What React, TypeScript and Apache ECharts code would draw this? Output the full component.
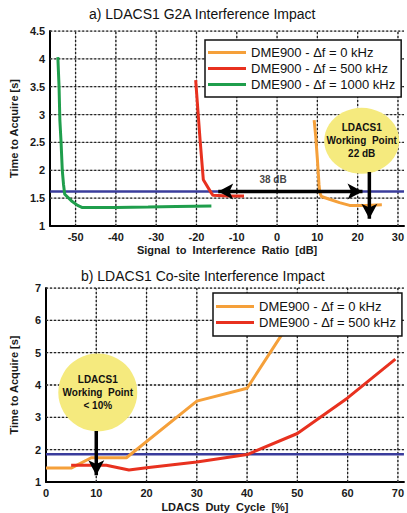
import React, { useEffect, useRef } from "react";
import * as echarts from "echarts";

// ---- texts ----
const topTitle = "a) LDACS1 G2A Interference Impact";
const bottomTitle = "b) LDACS1 Co-site Interference Impact";
const yName = "Time to Acquire [s]";
const topXName = "Signal  to  Interference  Ratio  [dB]";
const bottomXName = "LDACS  Duty  Cycle  [%]";
const seriesNames = ["DME900 - Δf = 0 kHz", "DME900 - Δf = 500 kHz", "DME900 - Δf = 1000 kHz"];
const topWorkingLabel = "LDACS1\nWorking  Point\n22 dB";
const bottomWorkingLabel = "LDACS1\nWorking  Point\n< 10%";
const gapLabel = "38 dB";

// ---- axes / grid ticks ----
const g2aXMin = -56.3;
const g2aXMax = 31.5;
const g2aXStep = 10;
const g2aYMin = 1;
const g2aYMax = 4.5;
const g2aYStep = 0.5;
const dutyXMin = 0;
const dutyXMax = 71.2;
const dutyXStep = 10;
const dutyYMin = 1;
const dutyYMax = 7;
const dutyYStep = 1;
const g2aXTicks = [-50, -40, -30, -20, -10, 0, 10, 20, 30];
const g2aYTicks = [1.5, 2, 2.5, 3, 3.5, 4, 4.5];
const dutyXTicks = [10, 20, 30, 40, 50, 60, 70];
const dutyYTicks = [2, 3, 4, 5, 6, 7];

// ---- a) G2A data ----
const g2aOrangeX = [9.2, 9.6, 10.0, 10.4, 10.6, 11, 13, 15.5, 18, 22, 26];
const g2aOrangeY = [2.9, 2.6, 2.2, 1.75, 1.6, 1.53, 1.48, 1.42, 1.37, 1.37, 1.38];
const g2aRedX = [-20.2, -19.1, -18.3, -16.3, -15.9, -12, -8.2];
const g2aRedY = [3.62, 2.54, 1.83, 1.59, 1.55, 1.54, 1.54];
const g2aGreenX = [-54.4, -54.1, -53.9, -53.6, -53.3, -53.0, -52.7, -51, -49.5, -48.3, -40, -32, -25, -16.3];
const g2aGreenY = [4.03, 3.5, 2.9, 2.5, 2.0, 1.75, 1.57, 1.45, 1.37, 1.33, 1.33, 1.34, 1.35, 1.36];
const g2aThreshold = 1.62;
const g2aGapArrowX = [-14.6, 21.2];
const g2aWorkingArrowX = 22.9;
const g2aWorkingArrowY = [1.97, 1.13];
const g2aGapLabelX = -1;
const g2aCircle = [21.0, 2.53];

// ---- b) Duty cycle data ----
const dutyOrangeX = [0, 5, 9, 16, 30, 40, 50];
const dutyOrangeY = [1.43, 1.43, 1.75, 1.75, 3.5, 3.9, 6.3];
const dutyRedX = [5, 12, 16.5, 20, 30, 40, 50, 60, 69.5];
const dutyRedY = [1.52, 1.52, 1.37, 1.44, 1.62, 1.85, 2.5, 3.6, 4.8];
const dutyThreshold = 1.86;
const dutyWorkingArrowX = 10;
const dutyWorkingArrowY = [2.58, 1.21];
const dutyCircle = [10.3, 3.77];

const ORANGE = "#f5a03a";
const RED = "#e8311f";
const GREEN = "#1f9e4c";
const BLUE = "#3a3c9c";
const YELLOW = "#f5ea7e";
const FONT = "Liberation Sans, Arial, sans-serif";

const zip = (xs: number[], ys: number[]) => xs.map((x, i) => [x, ys[i]]);

export default function App() {
  const ref = useRef<HTMLDivElement>(null);
  useEffect(() => {
    document.body.style.margin = "0";
    const chart = echarts.init(ref.current!, undefined, { renderer: "svg" });

    const axisLineStyle = () => ({ show: true, onZero: false, lineStyle: { color: "#000", width: 2 } });
    const labelStyle = { color: "#1a1a1a", fontFamily: FONT, fontWeight: "bold" as const, fontSize: 11 };
    const nameStyle = { color: "#1a1a1a", fontFamily: FONT, fontWeight: "bold" as const, fontSize: 11 };

    // grid lines drawn as plain line series (two layers: soft solid + dark dotted)
    const gridLines = (
      idx: number,
      xt: number[],
      yt: number[],
      xmin: number,
      xmax: number,
      ymin: number,
      ymax: number
    ) => {
      const out: any[] = [];
      const layers = [
        { color: "#b4b4b4", width: 1, type: "solid" },
        { color: "#222", width: 1.3, type: [2, 2] },
      ];
      layers.forEach((ls, li) => {
        xt.forEach((v) =>
          out.push({
            name: `grid-${idx}-${li}-x${v}`,
            type: "line",
            xAxisIndex: idx,
            yAxisIndex: idx,
            data: [
              [v, ymin],
              [v, ymax],
            ],
            symbol: "none",
            showSymbol: false,
            silent: true,
            z: 1,
            lineStyle: { ...ls },
          })
        );
        yt.forEach((v) =>
          out.push({
            name: `grid-${idx}-${li}-y${v}`,
            type: "line",
            xAxisIndex: idx,
            yAxisIndex: idx,
            data: [
              [xmin, v],
              [xmax, v],
            ],
            symbol: "none",
            showSymbol: false,
            silent: true,
            z: 1,
            lineStyle: { ...ls },
          })
        );
      });
      return out;
    };

    const lineSeries = (name: string, data: number[][], color: string, idx: number) => ({
      name,
      type: "line",
      xAxisIndex: idx,
      yAxisIndex: idx,
      data,
      symbol: "none",
      showSymbol: false,
      color,
      lineStyle: { color, width: 3 },
      z: 3,
      silent: true,
    });

    const thresholdSeries = (name: string, idx: number, xmin: number, xmax: number, t: number) => ({
      name,
      type: "line",
      xAxisIndex: idx,
      yAxisIndex: idx,
      data: [
        [xmin, t],
        [xmax, t],
      ],
      symbol: "none",
      showSymbol: false,
      lineStyle: { color: BLUE, width: 2.5 },
      z: 2,
      silent: true,
    });

    const arrowSeries = (name: string, idx: number, items: any[]) => ({
      name,
      type: "line",
      xAxisIndex: idx,
      yAxisIndex: idx,
      data: items,
      showSymbol: true,
      showAllSymbol: true,
      symbolSize: [12, 15],
      itemStyle: { color: "#000" },
      lineStyle: { color: "#000", width: 3.5 },
      z: 5,
      silent: true,
    });

    const circleSeries = (data: number[], size: number[], text: string, idx: number) => ({
      name: "wp" + idx,
      type: "scatter",
      xAxisIndex: idx,
      yAxisIndex: idx,
      data: [data],
      symbol: "circle",
      symbolSize: size,
      itemStyle: { color: YELLOW, opacity: 1 },
      emphasis: { disabled: true },
      z: 4,
      silent: true,
      label: {
        show: true,
        position: "inside",
        formatter: text,
        color: "#111",
        fontFamily: FONT,
        fontWeight: "bold",
        fontSize: 10,
        lineHeight: 13,
        align: "center",
      },
    });

    const legendBase = {
      orient: "vertical",
      icon: "rect",
      itemGap: 1,
      itemWidth: 38,
      itemHeight: 3,
      backgroundColor: "#fff",
      borderColor: "#111",
      borderWidth: 1.5,
      borderRadius: 0,
      selectedMode: false,
      textStyle: { fontFamily: FONT, fontSize: 13, color: "#111", lineHeight: 15 },
      z: 10,
    };

    const option: any = {
      animation: false,
      title: [
        {
          text: topTitle,
          left: 89,
          top: 7,
          padding: 0,
          textStyle: { fontFamily: FONT, fontSize: 14, fontWeight: "normal", color: "#111" },
        },
        {
          text: bottomTitle,
          left: 81,
          top: 269,
          padding: 0,
          textStyle: { fontFamily: FONT, fontSize: 14, fontWeight: "normal", color: "#111" },
        },
      ],
      legend: [
        { ...legendBase, data: seriesNames, left: 205, top: 40, padding: [5, 6, 5, 3] },
        { ...legendBase, data: seriesNames.slice(0, 2), left: 213, top: 293, padding: [6, 6, 6, 3] },
      ],
      grid: [
        { left: 45, top: 31, width: 362, height: 195 },
        { left: 45, top: 288, width: 362, height: 197 },
      ],
      xAxis: [
        {
          type: "value",
          gridIndex: 0,
          min: g2aXMin,
          max: g2aXMax,
          splitNumber: 9,
          minInterval: g2aXStep,
          maxInterval: g2aXStep,
          axisLine: axisLineStyle(),
          axisTick: { show: false },
          axisLabel: { ...labelStyle, margin: 5, showMinLabel: false, showMaxLabel: false },
          splitLine: { show: false },
          name: topXName,
          nameLocation: "middle",
          nameGap: 18,
          nameTextStyle: nameStyle,
        },
        {
          type: "value",
          gridIndex: 1,
          min: dutyXMin,
          max: dutyXMax,
          interval: dutyXStep,
          axisLine: axisLineStyle(),
          axisTick: { show: false },
          axisLabel: { ...labelStyle, margin: 5, showMaxLabel: false },
          splitLine: { show: false },
          name: bottomXName,
          nameLocation: "middle",
          nameGap: 19,
          nameTextStyle: nameStyle,
        },
      ],
      yAxis: [
        {
          type: "value",
          gridIndex: 0,
          min: g2aYMin,
          max: g2aYMax,
          interval: g2aYStep,
          axisLine: axisLineStyle(),
          axisTick: { show: false },
          axisLabel: { ...labelStyle, margin: 5 },
          splitLine: { show: false },
          name: yName,
          nameLocation: "middle",
          nameGap: 27,
          nameTextStyle: nameStyle,
        },
        {
          type: "value",
          gridIndex: 1,
          min: dutyYMin,
          max: dutyYMax,
          interval: dutyYStep,
          axisLine: axisLineStyle(),
          axisTick: { show: false },
          axisLabel: { ...labelStyle, margin: 5 },
          splitLine: { show: false },
          name: yName,
          nameLocation: "middle",
          nameGap: 27,
          nameTextStyle: nameStyle,
        },
      ],
      series: [
        ...gridLines(0, g2aXTicks, g2aYTicks, g2aXMin, g2aXMax, g2aYMin, g2aYMax),
        ...gridLines(1, dutyXTicks, dutyYTicks, dutyXMin, dutyXMax, dutyYMin, dutyYMax),
        thresholdSeries("threshold-a", 0, g2aXMin, g2aXMax, g2aThreshold),
        lineSeries(seriesNames[0], zip(g2aOrangeX, g2aOrangeY), ORANGE, 0),
        lineSeries(seriesNames[1], zip(g2aRedX, g2aRedY), RED, 0),
        lineSeries(seriesNames[2], zip(g2aGreenX, g2aGreenY), GREEN, 0),
        circleSeries(g2aCircle, [75, 66], topWorkingLabel, 0),
        arrowSeries("gap-arrow", 0, [
          { value: [g2aGapArrowX[0], g2aThreshold], symbol: "arrow", symbolRotate: 90 },
          { value: [g2aGapArrowX[1], g2aThreshold], symbol: "arrow", symbolRotate: -90 },
        ]),
        arrowSeries("wp-arrow-a", 0, [
          { value: [g2aWorkingArrowX, g2aWorkingArrowY[0]], symbol: "none" },
          { value: [g2aWorkingArrowX, g2aWorkingArrowY[1]], symbol: "arrow", symbolRotate: 180 },
        ]),
        {
          name: "gap-label",
          type: "scatter",
          xAxisIndex: 0,
          yAxisIndex: 0,
          data: [[g2aGapLabelX, g2aThreshold]],
          symbolSize: 1,
          itemStyle: { color: "rgba(0,0,0,0)" },
          z: 6,
          silent: true,
          label: {
            show: true,
            position: "top",
            distance: 6,
            formatter: gapLabel,
            color: "#111",
            fontFamily: FONT,
            fontWeight: "bold",
            fontSize: 10,
          },
        },
        thresholdSeries("threshold-b", 1, dutyXMin, dutyXMax, dutyThreshold),
        lineSeries(seriesNames[0], zip(dutyOrangeX, dutyOrangeY), ORANGE, 1),
        lineSeries(seriesNames[1], zip(dutyRedX, dutyRedY), RED, 1),
        circleSeries(dutyCircle, [79, 78], bottomWorkingLabel, 1),
        arrowSeries("wp-arrow-b", 1, [
          { value: [dutyWorkingArrowX, dutyWorkingArrowY[0]], symbol: "none" },
          { value: [dutyWorkingArrowX, dutyWorkingArrowY[1]], symbol: "arrow", symbolRotate: 180 },
        ]),
      ],
    };
    chart.setOption(option);
    return () => chart.dispose();
  }, []);
  return <div ref={ref} style={{ width: 407, height: 513 }} />;
}
